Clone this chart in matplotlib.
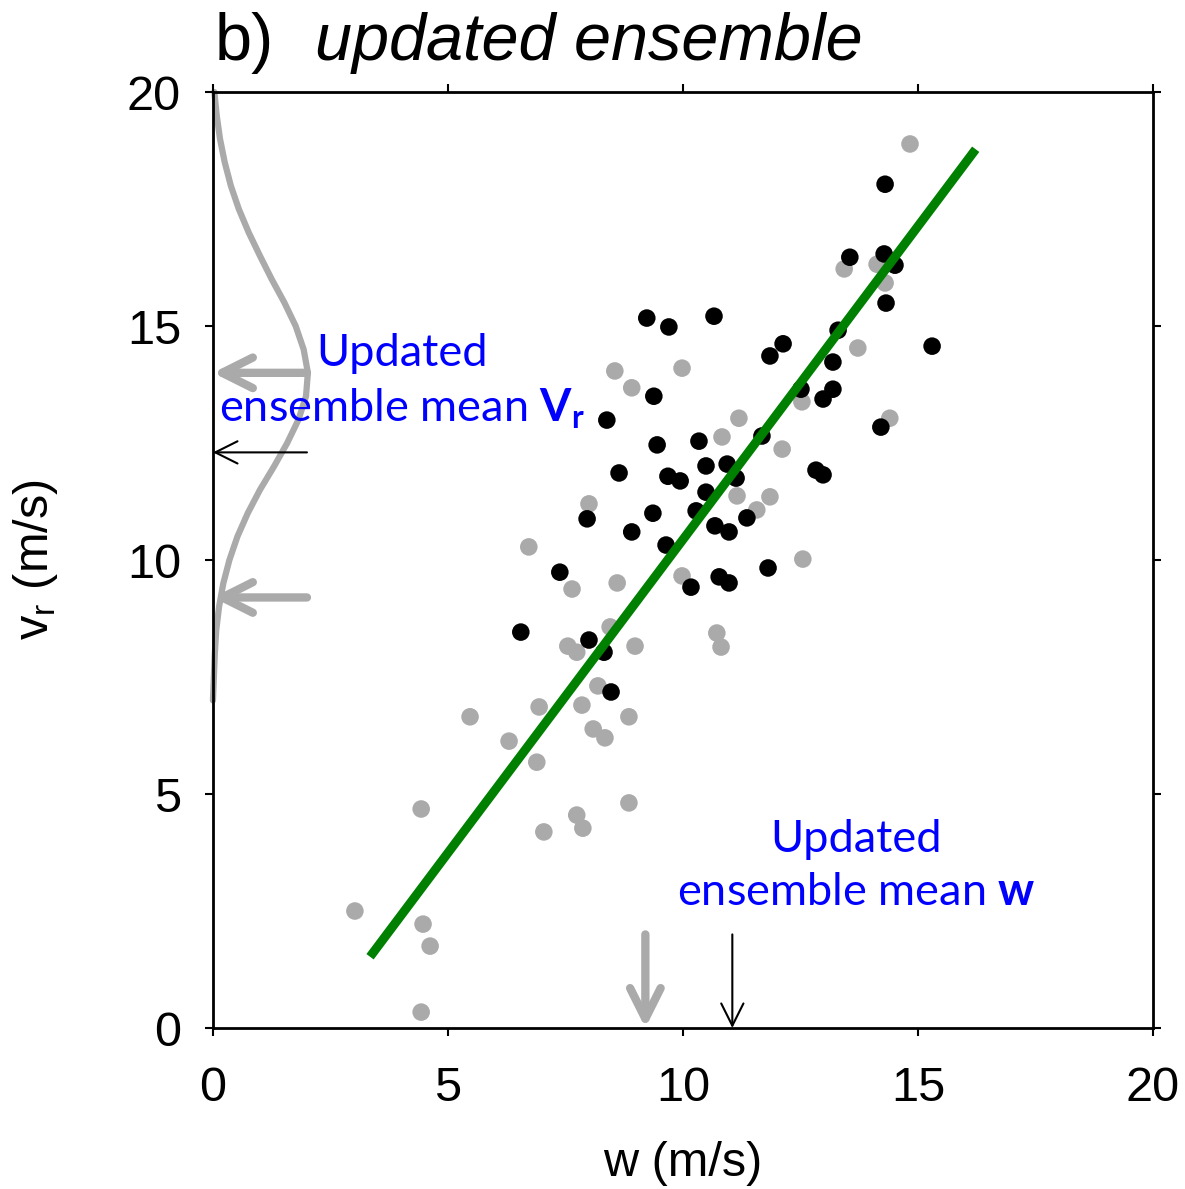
import matplotlib
matplotlib.use("Agg")
import matplotlib.pyplot as plt

plt.rcParams['font.family'] = ['Liberation Sans', 'DejaVu Sans']
plt.rcParams['mathtext.fontset'] = 'custom'
plt.rcParams['mathtext.bf'] = 'Lato:bold'
plt.rcParams['mathtext.rm'] = 'Lato'

# prior / non-updated members (grey)
grey_w = [14.83, 13.43, 14.13, 14.30, 13.72, 14.40, 12.53, 12.11, 8.55, 9.98,
          8.91, 11.19, 10.83, 11.85, 11.57, 11.15, 8.00, 6.72, 7.64, 8.60,
          9.98, 12.55, 10.72, 10.81, 8.45, 7.55, 7.74, 8.98, 8.19, 7.85,
          6.94, 5.47, 6.30, 8.09, 8.34, 8.85, 6.89, 4.43, 8.85, 7.74,
          7.87, 7.04, 3.02, 4.47, 4.62, 4.43]
grey_vr = [18.89, 16.22, 16.32, 15.92, 14.53, 13.03, 13.38, 12.37, 14.04, 14.10,
           13.68, 13.03, 12.63, 11.35, 11.07, 11.37, 11.20, 10.28, 9.38, 9.51,
           9.66, 10.02, 8.44, 8.14, 8.57, 8.16, 8.03, 8.16, 7.31, 6.90,
           6.86, 6.65, 6.13, 6.39, 6.20, 6.65, 5.68, 4.68, 4.81, 4.55,
           4.27, 4.19, 2.50, 2.22, 1.75, 0.34]

# updated members (black)
black_w = [14.30, 13.55, 14.28, 14.51, 14.32, 9.23, 9.70, 10.66, 13.30, 15.30,
           12.13, 11.85, 13.19, 12.51, 13.19, 12.98, 14.21, 11.68, 12.83, 12.98,
           9.38, 8.38, 10.34, 9.45, 8.64, 10.49, 10.94, 9.68, 9.94, 11.13,
           10.49, 9.36, 10.28, 10.68, 10.98, 11.36, 7.96, 8.91, 9.64, 7.38,
           10.17, 10.77, 10.98, 11.81, 6.55, 8.00, 8.32, 8.47]
black_vr = [18.03, 16.47, 16.54, 16.30, 15.49, 15.17, 14.98, 15.21, 14.91, 14.57,
            14.62, 14.36, 14.23, 13.65, 13.65, 13.44, 12.84, 12.65, 11.92, 11.82,
            13.50, 12.99, 12.54, 12.46, 11.86, 12.01, 12.05, 11.79, 11.69, 11.75,
            11.45, 11.00, 11.05, 10.73, 10.60, 10.90, 10.88, 10.60, 10.32, 9.74,
            9.42, 9.64, 9.51, 9.83, 8.46, 8.29, 8.03, 7.18]

# regression line end points
line_w = [3.40, 16.17]
line_vr = [1.60, 18.70]

# pdf curve along the vr axis
pdf_vr = [20, 19.5, 19, 18.5, 18, 17.5, 17, 16.5, 16, 15.5, 15, 14.5, 14,
          13.5, 13, 12.5, 12, 11.5, 11, 10.5, 10, 9.5, 9, 8.5, 8, 7.5, 7]
pdf_val = [0.03, 0.08, 0.15, 0.25, 0.38, 0.55, 0.76, 1.0, 1.25, 1.52, 1.76, 1.93, 2.02,
           1.98, 1.82, 1.58, 1.3, 1.0, 0.74, 0.52, 0.35, 0.22, 0.13, 0.07, 0.04, 0.02, 0.0]

# ensemble means
vr_prior_modes = [14.0, 9.2]
vr_mean = 12.3
w_prior = 9.2
w_mean = 11.05

fig = plt.figure(figsize=(11.85, 11.89), dpi=100)
ax = fig.add_axes([0.1797, 0.1354, 0.7933, 0.7872])

grey = '#aaaaaa'
ax.plot(pdf_val, pdf_vr, color=grey, lw=4.5, solid_capstyle='round', zorder=1, clip_on=False)
ax.scatter(grey_w, grey_vr, s=160, color=grey, edgecolors='none', zorder=2)
ax.scatter(black_w, black_vr, s=160, color='black', edgecolors='none', zorder=3)
ax.plot(line_w, line_vr, color='#008000', lw=6.5, zorder=4)

for v in vr_prior_modes:
    ax.annotate('', xy=(0, v), xytext=(2.0, v),
                arrowprops=dict(arrowstyle='->', color=grey, lw=6, mutation_scale=55,
                                shrinkA=0, shrinkB=0), annotation_clip=False)
ax.annotate('', xy=(0, vr_mean), xytext=(2.0, vr_mean),
            arrowprops=dict(arrowstyle='->', color='black', lw=1.5, mutation_scale=40,
                            shrinkA=0, shrinkB=0), annotation_clip=False)
ax.annotate('', xy=(w_prior, 0), xytext=(w_prior, 2.0),
            arrowprops=dict(arrowstyle='->', color=grey, lw=6, mutation_scale=55,
                            shrinkA=0, shrinkB=0), annotation_clip=False)
ax.annotate('', xy=(w_mean, 0), xytext=(w_mean, 2.0),
            arrowprops=dict(arrowstyle='->', color='black', lw=1.5, mutation_scale=40,
                            shrinkA=0, shrinkB=0), annotation_clip=False)

ax.text(4.02, 13.8, 'Updated\nensemble mean $\\mathbf{V_r}$', color='#0000ff',
        fontsize=32.5, family='Lato', ha='center', va='center', linespacing=1.36, zorder=5)
ax.text(13.69, 3.47, 'Updated\nensemble mean $\\mathbf{w}$', color='#0000ff',
        fontsize=32.5, family='Lato', ha='center', va='center', linespacing=1.36, zorder=5)

ax.set_xlim(0, 20)
ax.set_ylim(0, 20)
ax.set_xticks([0, 5, 10, 15, 20])
ax.set_yticks([0, 5, 10, 15, 20])
ax.tick_params(direction='out', length=6, width=1.5, labelsize=35,
               top=True, right=True)
ax.tick_params(axis='x', pad=21)
ax.tick_params(axis='y', pad=17)
for s in ax.spines.values():
    s.set_linewidth(2)

ax.set_xlabel('w (m/s)', fontsize=35, labelpad=22)
ax.set_ylabel('$\\mathregular{v_r}$ (m/s)', fontsize=35, labelpad=48)

fig.text(0.181, 0.9495, 'b)', fontsize=48, va='baseline', ha='left')
fig.text(0.266, 0.9495, 'updated ensemble', fontsize=48, style='italic', va='baseline', ha='left')

fig.savefig('out.png', dpi=100)
